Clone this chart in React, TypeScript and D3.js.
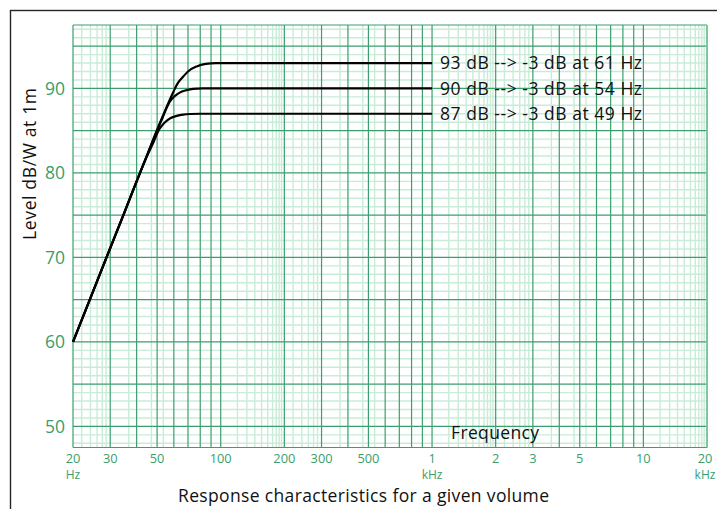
import React from 'react';
import * as d3 from 'd3';

// ---- data ----
const xTickValues = [20, 30, 50, 100, 200, 300, 500, 1000, 2000, 3000, 5000, 10000, 20000];
const xTickLabels = ['20', '30', '50', '100', '200', '300', '500', '1', '2', '3', '5', '10', '20'];
const xTickUnits = ['Hz', '', '', '', '', '', '', 'kHz', '', '', '', '', 'kHz'];
const yTickValues = [50, 60, 70, 80, 90];
const majorMultipliers = [1, 2, 3, 4, 5, 6, 7, 8, 9];
const minorMultipliers = [1.2, 1.33, 1.45, 1.56, 1.67, 1.76, 1.83, 1.89, 1.94, 2.2, 2.42, 2.6, 2.75, 2.87, 3.67, 4.7, 5.35];
const decades = [10, 100, 1000, 10000];

const curve93: [number, number][] = [
  [20, 60], [25, 66.1], [30, 71.1], [35, 75.3], [40, 79.0], [45, 82.2], [50, 85.1], [54, 87.1],
  [57.5, 88.7], [60, 89.7], [63, 90.7], [66.5, 91.4], [70, 92.0], [77, 92.6], [85, 92.9], [95, 93], [150, 93], [1000, 93],
];
const curve90: [number, number][] = [
  [20, 60], [25, 66.1], [30, 71.1], [35, 75.3], [40, 79.0], [45, 82.2], [50, 85.0], [53, 86.5],
  [55.5, 87.7], [57.5, 88.45], [61, 89.15], [64, 89.5], [68, 89.75], [74, 89.93], [82, 90], [150, 90], [1000, 90],
];
const curve87: [number, number][] = [
  [20, 60], [25, 66.1], [30, 71.1], [35, 75.3], [40, 79.0], [45, 82.1], [48, 83.6], [51, 85.1],
  [54, 85.9], [58, 86.5], [62, 86.75], [66.5, 86.9], [72, 86.97], [80, 87], [150, 87], [1000, 87],
];
const curveLabels = ['93 dB --> -3 dB at 61 Hz', '90 dB --> -3 dB at 54 Hz', '87 dB --> -3 dB at 49 Hz'];
const curves = [curve93, curve90, curve87];

const yTitle = 'Level dB/W at 1m';
const xInnerTitle = 'Frequency';
const xTitle = 'Response characteristics for a given volume';

const W = 717;
const H = 509;
const DARK = '#3b9f6d';
const LIGHT = '#c9ecd8';
const TEXTG = '#3a9e6c';
const FONT = "'Open Sans', 'Noto Sans', sans-serif";

export default function App() {
  const x = d3.scaleLog().domain([20, 20000]).range([73, 707]);
  const y = d3.scaleLinear().domain([47.5, 97.5]).range([447.5, 25]);
  const [x0, x1] = x.range();
  const [y0, y1] = y.range();

  const majorV: number[] = [];
  decades.forEach((d) => majorMultipliers.forEach((m) => {
    const f = d * m;
    if (f >= 20 && f <= 20000) majorV.push(f);
  }));
  majorV.push(20000);
  const minorV: number[] = [];
  decades.forEach((d) => minorMultipliers.forEach((m) => {
    const f = d * m;
    if (f > 20 && f < 20000) minorV.push(f);
  }));
  const hLines = d3.range(48, 98);
  const minorH = hLines.filter((v) => v % 5 !== 0);
  const majorH = hLines.filter((v) => v % 5 === 0);

  const line = d3.line<[number, number]>()
    .x((d) => x(d[0]))
    .y((d) => y(d[1]))
    .curve(d3.curveMonotoneX);

  return (
    <svg width={W} height={H} style={{ position: 'absolute', left: 0, top: 0, background: '#fff' }}>
      <rect x={0} y={0} width={W} height={H} fill="#fff" />
      {/* outer frame */}
      <rect x={10.5} y={10.5} width={800} height={600} fill="none" stroke="#262626" strokeWidth={1.4} />

      {/* light grid */}
      <g stroke={LIGHT} strokeWidth={1.4}>
        {minorV.map((f, i) => (
          <line key={'mv' + i} x1={x(f)} x2={x(f)} y1={y1} y2={y0} />
        ))}
        {minorH.map((v, i) => (
          <line key={'mh' + i} x1={x0} x2={x1} y1={y(v)} y2={y(v)} />
        ))}
      </g>
      {/* dark grid */}
      <g stroke={DARK} strokeWidth={1.2}>
        {majorV.map((f, i) => (
          <line key={'Mv' + i} x1={x(f)} x2={x(f)} y1={y1} y2={y0} />
        ))}
        {majorH.map((v, i) => (
          <line key={'Mh' + i} x1={x0} x2={x1} y1={y(v)} y2={y(v)} />
        ))}
        <line x1={x0} x2={x1} y1={y1} y2={y1} />
        <line x1={x0} x2={x1} y1={y0} y2={y0} />
      </g>
      <line x1={x1} x2={x1} y1={y1} y2={y0} stroke="#8fd0ae" strokeWidth={1.4} />

      {/* y tick labels */}
      {yTickValues.map((v) => (
        <text key={'yt' + v} x={65} y={y(v)} dy="0.36em" textAnchor="end" fill={TEXTG}
          fontFamily={FONT} fontSize={17.5}>{v}</text>
      ))}
      {/* x tick labels */}
      {xTickValues.map((f, i) => {
        const cx = Math.min(x(f), 705);
        return (
          <g key={'xt' + i}>
            <text x={cx} y={462.5} textAnchor="middle" fill={TEXTG} fontFamily={FONT} fontSize={12.8}>{xTickLabels[i]}</text>
            {xTickUnits[i] && (
              <text x={cx} y={479.2} textAnchor="middle" fill={TEXTG} fontFamily={FONT} fontSize={12}>{xTickUnits[i]}</text>
            )}
          </g>
        );
      })}

      {/* curves */}
      {curves.map((c, i) => (
        <path key={'c' + i} d={line(c) || ''} fill="none" stroke="#000" strokeWidth={2.2} />
      ))}
      {curves.map((c, i) => (
        <text key={'cl' + i} x={x(1000) + 8} y={y(c[c.length - 1][1])} dy="0.36em" fill="#111"
          fontFamily={FONT} fontSize={17.5} textLength={202} lengthAdjust="spacing">{curveLabels[i]}</text>
      ))}

      {/* titles */}
      <text x={451} y={439} fill="#111" fontFamily={FONT} fontSize={17.5} textLength={88} lengthAdjust="spacing">{xInnerTitle}</text>
      <text x={363.5} y={501.5} textAnchor="middle" fill="#111" fontFamily={FONT} fontSize={17.5}
        textLength={371} lengthAdjust="spacing">{xTitle}</text>
      <text transform={`translate(36,164) rotate(-90)`} textAnchor="middle" fill="#111"
        fontFamily={FONT} fontSize={17.5} textLength={152} lengthAdjust="spacing">{yTitle}</text>
    </svg>
  );
}
